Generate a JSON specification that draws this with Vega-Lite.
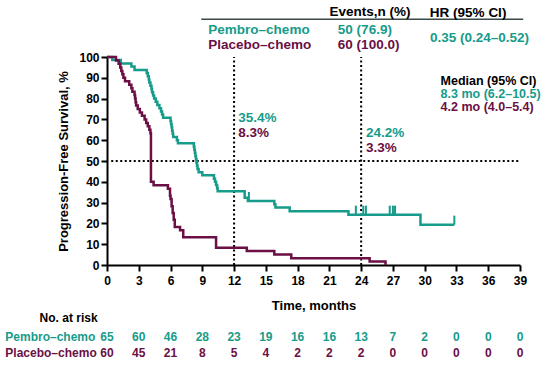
{
  "$schema": "https://vega.github.io/schema/vega-lite/v6.json",
  "width": 413,
  "height": 208,
  "autosize": {"type": "none"},
  "padding": {"left": 107, "top": 57, "right": 34, "bottom": 104},
  "config": {
    "view": {"stroke": null},
    "font": "Liberation Sans",
    "text": {"font": "Liberation Sans", "fontWeight": "bold", "baseline": "middle"}
  },
  "datasets": {
    "km": [
      {"arm": "Pembro–chemo", "month": 0, "pct": 100},
      {"arm": "Pembro–chemo", "month": 0.5, "pct": 98.5},
      {"arm": "Pembro–chemo", "month": 1.3, "pct": 96.9},
      {"arm": "Pembro–chemo", "month": 2.3, "pct": 95.4},
      {"arm": "Pembro–chemo", "month": 2.6, "pct": 93.8},
      {"arm": "Pembro–chemo", "month": 3.75, "pct": 92.3},
      {"arm": "Pembro–chemo", "month": 3.85, "pct": 90.8},
      {"arm": "Pembro–chemo", "month": 3.95, "pct": 89.2},
      {"arm": "Pembro–chemo", "month": 4.0, "pct": 87.7},
      {"arm": "Pembro–chemo", "month": 4.1, "pct": 86.2},
      {"arm": "Pembro–chemo", "month": 4.2, "pct": 84.6},
      {"arm": "Pembro–chemo", "month": 4.25, "pct": 83.1},
      {"arm": "Pembro–chemo", "month": 4.35, "pct": 81.5},
      {"arm": "Pembro–chemo", "month": 4.45, "pct": 80.0},
      {"arm": "Pembro–chemo", "month": 4.6, "pct": 78.5},
      {"arm": "Pembro–chemo", "month": 4.75, "pct": 76.9},
      {"arm": "Pembro–chemo", "month": 4.95, "pct": 75.4},
      {"arm": "Pembro–chemo", "month": 5.1, "pct": 73.8},
      {"arm": "Pembro–chemo", "month": 5.2, "pct": 72.3},
      {"arm": "Pembro–chemo", "month": 5.3, "pct": 70.8},
      {"arm": "Pembro–chemo", "month": 6.0, "pct": 69.2},
      {"arm": "Pembro–chemo", "month": 6.05, "pct": 67.7},
      {"arm": "Pembro–chemo", "month": 6.1, "pct": 66.2},
      {"arm": "Pembro–chemo", "month": 6.15, "pct": 64.6},
      {"arm": "Pembro–chemo", "month": 6.2, "pct": 63.1},
      {"arm": "Pembro–chemo", "month": 6.25, "pct": 61.5},
      {"arm": "Pembro–chemo", "month": 6.6, "pct": 60.0},
      {"arm": "Pembro–chemo", "month": 6.7, "pct": 58.5},
      {"arm": "Pembro–chemo", "month": 8.2, "pct": 56.9},
      {"arm": "Pembro–chemo", "month": 8.25, "pct": 55.4},
      {"arm": "Pembro–chemo", "month": 8.3, "pct": 53.8},
      {"arm": "Pembro–chemo", "month": 8.35, "pct": 52.3},
      {"arm": "Pembro–chemo", "month": 8.4, "pct": 50.8},
      {"arm": "Pembro–chemo", "month": 8.45, "pct": 49.2},
      {"arm": "Pembro–chemo", "month": 8.5, "pct": 47.7},
      {"arm": "Pembro–chemo", "month": 8.55, "pct": 46.2},
      {"arm": "Pembro–chemo", "month": 8.65, "pct": 44.6},
      {"arm": "Pembro–chemo", "month": 9.0, "pct": 43.1},
      {"arm": "Pembro–chemo", "month": 10.1, "pct": 41.5},
      {"arm": "Pembro–chemo", "month": 10.2, "pct": 40.0},
      {"arm": "Pembro–chemo", "month": 10.3, "pct": 38.5},
      {"arm": "Pembro–chemo", "month": 10.4, "pct": 36.9},
      {"arm": "Pembro–chemo", "month": 10.45, "pct": 35.4},
      {"arm": "Pembro–chemo", "month": 13.0, "pct": 32.3},
      {"arm": "Pembro–chemo", "month": 13.3, "pct": 30.8},
      {"arm": "Pembro–chemo", "month": 15.8, "pct": 29.2},
      {"arm": "Pembro–chemo", "month": 15.9, "pct": 27.6},
      {"arm": "Pembro–chemo", "month": 17.25, "pct": 25.9},
      {"arm": "Pembro–chemo", "month": 22.8, "pct": 24.2},
      {"arm": "Pembro–chemo", "month": 29.6, "pct": 19.4},
      {"arm": "Pembro–chemo", "month": 32.8, "pct": 19.4},
      {"arm": "Placebo–chemo", "month": 0, "pct": 100},
      {"arm": "Placebo–chemo", "month": 0.85, "pct": 98.3},
      {"arm": "Placebo–chemo", "month": 1.1, "pct": 96.7},
      {"arm": "Placebo–chemo", "month": 1.25, "pct": 95.0},
      {"arm": "Placebo–chemo", "month": 1.35, "pct": 93.3},
      {"arm": "Placebo–chemo", "month": 1.45, "pct": 91.7},
      {"arm": "Placebo–chemo", "month": 1.55, "pct": 90.0},
      {"arm": "Placebo–chemo", "month": 1.7, "pct": 88.3},
      {"arm": "Placebo–chemo", "month": 2.1, "pct": 86.7},
      {"arm": "Placebo–chemo", "month": 2.3, "pct": 85.0},
      {"arm": "Placebo–chemo", "month": 2.4, "pct": 83.3},
      {"arm": "Placebo–chemo", "month": 2.6, "pct": 81.7},
      {"arm": "Placebo–chemo", "month": 2.65, "pct": 80.0},
      {"arm": "Placebo–chemo", "month": 2.7, "pct": 78.3},
      {"arm": "Placebo–chemo", "month": 2.75, "pct": 76.7},
      {"arm": "Placebo–chemo", "month": 2.9, "pct": 75.0},
      {"arm": "Placebo–chemo", "month": 3.1, "pct": 73.3},
      {"arm": "Placebo–chemo", "month": 3.3, "pct": 71.7},
      {"arm": "Placebo–chemo", "month": 3.55, "pct": 70.0},
      {"arm": "Placebo–chemo", "month": 3.7, "pct": 68.3},
      {"arm": "Placebo–chemo", "month": 3.85, "pct": 66.7},
      {"arm": "Placebo–chemo", "month": 4.0, "pct": 65.0},
      {"arm": "Placebo–chemo", "month": 4.1, "pct": 63.3},
      {"arm": "Placebo–chemo", "month": 4.15, "pct": 40.0},
      {"arm": "Placebo–chemo", "month": 4.4, "pct": 38.3},
      {"arm": "Placebo–chemo", "month": 5.75, "pct": 36.7},
      {"arm": "Placebo–chemo", "month": 5.95, "pct": 33.3},
      {"arm": "Placebo–chemo", "month": 6.0, "pct": 31.7},
      {"arm": "Placebo–chemo", "month": 6.1, "pct": 28.3},
      {"arm": "Placebo–chemo", "month": 6.2, "pct": 25.0},
      {"arm": "Placebo–chemo", "month": 6.3, "pct": 21.7},
      {"arm": "Placebo–chemo", "month": 6.4, "pct": 18.3},
      {"arm": "Placebo–chemo", "month": 6.9, "pct": 16.7},
      {"arm": "Placebo–chemo", "month": 7.2, "pct": 13.3},
      {"arm": "Placebo–chemo", "month": 10.3, "pct": 8.3},
      {"arm": "Placebo–chemo", "month": 13.2, "pct": 6.7},
      {"arm": "Placebo–chemo", "month": 15.8, "pct": 5.0},
      {"arm": "Placebo–chemo", "month": 17.4, "pct": 3.3},
      {"arm": "Placebo–chemo", "month": 24.8, "pct": 1.7},
      {"arm": "Placebo–chemo", "month": 26.3, "pct": 0}
    ],
    "censor": [
      {"arm": "Pembro–chemo", "month": 13.4, "pct": 30.8},
      {"arm": "Pembro–chemo", "month": 23.5, "pct": 24.2},
      {"arm": "Pembro–chemo", "month": 24.2, "pct": 24.2},
      {"arm": "Pembro–chemo", "month": 24.45, "pct": 24.2},
      {"arm": "Pembro–chemo", "month": 26.7, "pct": 24.2},
      {"arm": "Pembro–chemo", "month": 27.0, "pct": 24.2},
      {"arm": "Pembro–chemo", "month": 27.2, "pct": 24.2},
      {"arm": "Pembro–chemo", "month": 32.8, "pct": 19.4}
    ],
    "vref": [
      {"month": 12, "pct": 0, "pct2": 100},
      {"month": 24, "pct": 0, "pct2": 100}
    ],
    "href": [
      {"month": 0.4, "month2": 39, "pct": 50}
    ],
    "headrule": [
      {"month": 8.9, "month2": 39.3, "pct": 118.1}
    ],
    "headers": [
      {"label": "Events,n (%)", "month": 24.83, "pct": 121.8},
      {"label": "HR (95% CI)", "month": 34.1, "pct": 121.0}
    ],
    "armtext": [
      {"arm": "Pembro–chemo", "label": "Pembro–chemo", "month": 9.57, "pct": 113.0},
      {"arm": "Placebo–chemo", "label": "Placebo–chemo", "month": 9.57, "pct": 105.8},
      {"arm": "Pembro–chemo", "label": "50 (76.9)", "month": 21.8, "pct": 113.0},
      {"arm": "Placebo–chemo", "label": "60 (100.0)", "month": 21.8, "pct": 105.8},
      {"arm": "Pembro–chemo", "label": "0.35 (0.24–0.52)", "month": 30.5, "pct": 109.0},
      {"arm": "Pembro–chemo", "label": "35.4%", "month": 12.4, "pct": 70.5},
      {"arm": "Placebo–chemo", "label": "8.3%", "month": 12.4, "pct": 63.3},
      {"arm": "Pembro–chemo", "label": "24.2%", "month": 24.46, "pct": 63.5},
      {"arm": "Placebo–chemo", "label": "3.3%", "month": 24.46, "pct": 56.1}
    ],
    "medianrows": [
      {"arm": "Pembro–chemo", "label": "8.3 mo (6.2–10.5)", "month": 31.5, "pct": 82.1},
      {"arm": "Placebo–chemo", "label": "4.2 mo (4.0–5.4)", "month": 31.5, "pct": 75.8}
    ],
    "median": [
      {"label": "Median (95% CI)", "month": 31.5, "pct": 88.4}
    ],
    "risktitle": [
      {"label": "No. at risk", "month": -6.37, "pct": -25.6}
    ],
    "risklabels": [
      {"arm": "Pembro–chemo", "label": "Pembro–chemo", "month": -9.6, "pct": -34.5},
      {"arm": "Placebo–chemo", "label": "Placebo–chemo", "month": -9.6, "pct": -42.5}
    ],
    "risk": [
      {"arm": "Pembro–chemo", "month": 0, "pct": -34.5, "n": 65},
      {"arm": "Pembro–chemo", "month": 3, "pct": -34.5, "n": 60},
      {"arm": "Pembro–chemo", "month": 6, "pct": -34.5, "n": 46},
      {"arm": "Pembro–chemo", "month": 9, "pct": -34.5, "n": 28},
      {"arm": "Pembro–chemo", "month": 12, "pct": -34.5, "n": 23},
      {"arm": "Pembro–chemo", "month": 15, "pct": -34.5, "n": 19},
      {"arm": "Pembro–chemo", "month": 18, "pct": -34.5, "n": 16},
      {"arm": "Pembro–chemo", "month": 21, "pct": -34.5, "n": 16},
      {"arm": "Pembro–chemo", "month": 24, "pct": -34.5, "n": 13},
      {"arm": "Pembro–chemo", "month": 27, "pct": -34.5, "n": 7},
      {"arm": "Pembro–chemo", "month": 30, "pct": -34.5, "n": 2},
      {"arm": "Pembro–chemo", "month": 33, "pct": -34.5, "n": 0},
      {"arm": "Pembro–chemo", "month": 36, "pct": -34.5, "n": 0},
      {"arm": "Pembro–chemo", "month": 39, "pct": -34.5, "n": 0},
      {"arm": "Placebo–chemo", "month": 0, "pct": -42.5, "n": 60},
      {"arm": "Placebo–chemo", "month": 3, "pct": -42.5, "n": 45},
      {"arm": "Placebo–chemo", "month": 6, "pct": -42.5, "n": 21},
      {"arm": "Placebo–chemo", "month": 9, "pct": -42.5, "n": 8},
      {"arm": "Placebo–chemo", "month": 12, "pct": -42.5, "n": 5},
      {"arm": "Placebo–chemo", "month": 15, "pct": -42.5, "n": 4},
      {"arm": "Placebo–chemo", "month": 18, "pct": -42.5, "n": 2},
      {"arm": "Placebo–chemo", "month": 21, "pct": -42.5, "n": 2},
      {"arm": "Placebo–chemo", "month": 24, "pct": -42.5, "n": 2},
      {"arm": "Placebo–chemo", "month": 27, "pct": -42.5, "n": 0},
      {"arm": "Placebo–chemo", "month": 30, "pct": -42.5, "n": 0},
      {"arm": "Placebo–chemo", "month": 33, "pct": -42.5, "n": 0},
      {"arm": "Placebo–chemo", "month": 36, "pct": -42.5, "n": 0},
      {"arm": "Placebo–chemo", "month": 39, "pct": -42.5, "n": 0}
    ]
  },
  "encoding": {
    "x": {
      "field": "month", "type": "quantitative",
      "scale": {"domain": [0, 39], "nice": false, "zero": false},
      "axis": {
        "title": "Time, months", "values": [0,3,6,9,12,15,18,21,24,27,30,33,36,39],
        "grid": false, "labelFont": "Liberation Sans", "labelFontSize": 12, "labelFontWeight": "bold",
        "labelColor": "#000", "labelPadding": 4, "labelFlush": false,
        "tickColor": "#000", "tickWidth": 2, "tickSize": 6,
        "domainColor": "#000", "domainWidth": 2,
        "titleFont": "Liberation Sans", "titleFontSize": 13, "titleFontWeight": "bold", "titleColor": "#000", "titlePadding": 13
      }
    },
    "y": {
      "field": "pct", "type": "quantitative",
      "scale": {"domain": [0, 100], "nice": false, "zero": false},
      "axis": {
        "title": "Progression-Free Survival, %", "values": [0,10,20,30,40,50,60,70,80,90,100],
        "grid": false, "labelFont": "Liberation Sans", "labelFontSize": 12, "labelFontWeight": "bold",
        "labelColor": "#000", "labelPadding": 2, "labelFlush": false,
        "tickColor": "#000", "tickWidth": 2, "tickSize": 6,
        "domainColor": "#000", "domainWidth": 2,
        "titleFont": "Liberation Sans", "titleFontSize": 13, "titleFontWeight": "bold", "titleColor": "#000", "titlePadding": 8
      }
    }
  },
  "layer": [
    {
      "data": {"name": "vref"},
      "mark": {"type": "rule", "color": "#000", "strokeWidth": 2, "strokeDash": [2, 2.5]},
      "encoding": {"y2": {"field": "pct2"}}
    },
    {
      "data": {"name": "href"},
      "mark": {"type": "rule", "color": "#000", "strokeWidth": 2, "strokeDash": [2, 2.5]},
      "encoding": {"x2": {"field": "month2"}}
    },
    {
      "data": {"name": "headrule"},
      "mark": {"type": "rule", "color": "#3a4a48", "strokeWidth": 1.5},
      "encoding": {"x2": {"field": "month2"}}
    },
    {
      "data": {"name": "km"},
      "mark": {"type": "line", "interpolate": "step-after", "strokeWidth": 2.5},
      "encoding": {
        "color": {"field": "arm", "type": "nominal", "scale": {"domain": ["Pembro–chemo", "Placebo–chemo"], "range": ["#179b8a", "#6b0f44"]}, "legend": null}
      }
    },
    {
      "data": {"name": "censor"},
      "mark": {"type": "tick", "orient": "vertical", "size": 9, "thickness": 2, "yOffset": -4.5, "color": "#179b8a", "opacity": 1}
    },
    {
      "data": {"name": "headers"},
      "mark": {"type": "text", "align": "center", "fontSize": 13.5, "color": "#000"},
      "encoding": {"text": {"field": "label"}}
    },
    {
      "data": {"name": "armtext"},
      "mark": {"type": "text", "align": "left", "fontSize": 13.5},
      "encoding": {
        "text": {"field": "label"},
        "color": {"field": "arm", "type": "nominal", "scale": {"domain": ["Pembro–chemo", "Placebo–chemo"], "range": ["#179b8a", "#6b0f44"]}, "legend": null}
      }
    },
    {
      "data": {"name": "medianrows"},
      "mark": {"type": "text", "align": "left", "fontSize": 12.5},
      "encoding": {
        "text": {"field": "label"},
        "color": {"field": "arm", "type": "nominal", "scale": {"domain": ["Pembro–chemo", "Placebo–chemo"], "range": ["#179b8a", "#6b0f44"]}, "legend": null}
      }
    },
    {
      "data": {"name": "median"},
      "mark": {"type": "text", "align": "left", "fontSize": 12.5, "color": "#000"},
      "encoding": {"text": {"field": "label"}}
    },
    {
      "data": {"name": "risktitle"},
      "mark": {"type": "text", "align": "left", "fontSize": 12, "color": "#000"},
      "encoding": {"text": {"field": "label"}}
    },
    {
      "data": {"name": "risklabels"},
      "mark": {"type": "text", "align": "left", "fontSize": 12},
      "encoding": {
        "text": {"field": "label"},
        "color": {"field": "arm", "type": "nominal", "scale": {"domain": ["Pembro–chemo", "Placebo–chemo"], "range": ["#179b8a", "#6b0f44"]}, "legend": null}
      }
    },
    {
      "data": {"name": "risk"},
      "mark": {"type": "text", "align": "center", "fontSize": 12},
      "encoding": {
        "text": {"field": "n", "type": "quantitative"},
        "color": {"field": "arm", "type": "nominal", "scale": {"domain": ["Pembro–chemo", "Placebo–chemo"], "range": ["#179b8a", "#6b0f44"]}, "legend": null}
      }
    }
  ]
}
